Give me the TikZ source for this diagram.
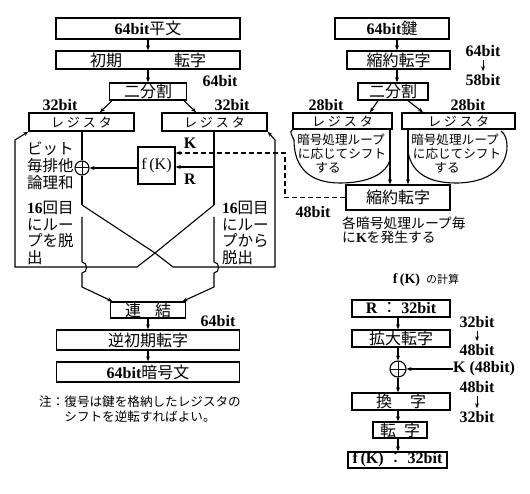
\documentclass[tikz,border=0pt]{standalone}
\usepackage{fontspec}
\setmainfont{Liberation Serif}
\newfontfamily\jp{Noto Sans CJK JP}
\usetikzlibrary{arrows.meta}
\newcommand\J[1]{{\jp\mdseries #1}}
\newcommand\regtext{{\jp\mdseries\fontsize{13}{14}\selectfont レ\hspace{3pt}ジ\hspace{3pt}ス\hspace{3pt}タ}}
\begin{document}
\begin{tikzpicture}[x=1pt,y=-1pt,
  box/.style={draw, line width=1.4pt, inner sep=0pt, font=\fontsize{16}{17}\selectfont\bfseries},
  lbl/.style={inner sep=0pt, font=\fontsize{16}{17}\selectfont\bfseries},
  ln/.style={line width=1.1pt},
  arr/.style={line width=1.1pt, -{Stealth[length=5pt,width=4pt]}},
  sarr/.style={line width=0.9pt, -{Stealth[length=5pt,width=4pt]}, shorten <=3pt, shorten >=3pt},
  xor/.style={circle, draw, line width=1.1pt, inner sep=0pt, fill=white,
    path picture={\draw[line width=1pt] (path picture bounding box.north) -- (path picture bounding box.south)
      (path picture bounding box.west) -- (path picture bounding box.east);}},
  side/.style={inner sep=0pt, align=left, anchor=north west, font=\fontsize{15.5}{16.7}\selectfont\bfseries},
  blob/.style={inner sep=0pt, font=\fontsize{12.6}{14}\selectfont}]
\useasboundingbox (0,0) rectangle (530,494);

% ---------------- left column ----------------
\node[box, minimum width=184pt, minimum height=21pt] (p1) at (148,28.5) {64bit\J{平文}};
\node[box, minimum width=184pt, minimum height=18pt] (p2) at (148,60) {\J{初期}\hspace{52pt}\J{転字}};
\node[box, minimum width=77pt, minimum height=17pt] (p3) at (148,91.5) {\J{二分割}};
\node[box, minimum width=105pt, minimum height=18pt] (regL) at (81.5,122) {\regtext};
\node[box, minimum width=105pt, minimum height=18pt] (regR) at (214.5,122) {\regtext};
\node[box, minimum size=37pt, font=\fontsize{16}{17}\selectfont] (fk) at (156.5,165.5) {f\,(K)};
\node[xor, minimum size=14pt] (xorL) at (82,168) {};
\node[box, minimum width=75pt, minimum height=16pt] (ren) at (148,310) {\J{連}\hspace{14pt}\J{結}};
\node[box, minimum width=183pt, minimum height=20pt] (inv) at (148,340) {\J{逆初期転字}};
\node[box, minimum width=183pt, minimum height=20pt] (ct) at (148,372) {64bit\J{暗号文}};

\draw[arr] (p1.south) -- (p2.north);
\draw[arr] (p2.south) -- (p3.north);
\draw[arr] ([xshift=-36pt]p3.south) -- ([xshift=18.5pt]regL.north);
\draw[arr] ([xshift=36pt]p3.south) -- ([xshift=-18.5pt]regR.north);
\node[lbl] (b64a) at (220,81) {64bit};
\node[lbl] (b32a) at (60,105) {32bit};
\node[lbl] (b32b) at (232,105) {32bit};

% Feistel round
\coordinate (la) at (82,205);
\coordinate (ra) at (214,205);
\coordinate (cx) at (155,253);
\draw[ln] (regL.south -| xorL) -- (xorL.north);
\draw[ln] (xorL.south) -- (la);
\draw[ln] (regR.south -| ra) -- (ra);
\coordinate (rsrc) at (214,167);
\draw[arr] (rsrc) -- (rsrc -| fk.east);
\draw[arr] (fk.west |- xorL) -- (xorL.east);
\node[lbl] (kl) at (190,143) {K};
\node[lbl] (rlab) at (190,179) {R};

\draw[arr] (la) -- (cx) -- (173,267) -- (275,267) -- (275,140) -- (regR.south east);
\draw[arr] (ra) -- (cx) -- (137,267) -- (15,267) -- (15,140) -- (regL.south west);

% exit after 16th round
\draw[arr] (82,217) -- (82,262) .. controls (88,262) and (88,273) .. (82,273) -- (82,287) -- ([xshift=2.5pt]ren.north west);
\draw[arr] (214,217) -- (214,262) .. controls (220,262) and (220,273) .. (214,273) -- (214,287) -- ([xshift=-3.5pt]ren.north east);

\node[side] (t1) at (27,142) {\J{ビット}\\\J{毎排他}\\\J{論理和}};
\node[side] (t2) at (27,201) {16\J{回目}\\\J{にルー}\\\J{プを脱}\\\J{出}};
\node[side] (t3) at (222,201) {16\J{回目}\\\J{にルー}\\\J{プから}\\\J{脱出}};

\draw[arr] (ren.south) -- (inv.north);
\draw[arr] (inv.south) -- (ct.north);
\node[lbl] (b64b) at (218,321) {64bit};
\node[inner sep=0pt, align=center, font=\fontsize{12.6}{15}\selectfont] (note) at (140,409.5)
  {\J{注：復号は鍵を格納したレジスタの}\\\J{シフトを逆転すればよい。}};

% ---------------- key schedule ----------------
\node[box, minimum width=114pt, minimum height=21pt] (k1) at (392,28.5) {64bit\J{鍵}};
\node[box, minimum width=103pt, minimum height=18pt] (k2) at (398.5,60) {\J{縮約転字}};
\node[box, minimum width=70pt, minimum height=17pt] (k3) at (393,91.5) {\J{二分割}};
\node[box, minimum width=99pt, minimum height=16pt] (kL) at (342.5,121) {\regtext};
\node[box, minimum width=113pt, minimum height=16pt] (kR) at (458.5,121) {\regtext};
\node[box, minimum width=104pt, minimum height=25pt] (k4) at (398,197.5) {\J{縮約転字}};
\coordinate (kx) at (397,0);
\draw[arr] (k1.south -| kx) -- (k2.north -| kx);
\draw[arr] (k2.south -| kx) -- (k3.north -| kx);
\draw[arr] ([xshift=-15pt]k3.south) -- ([xshift=27.5pt]kL.north);
\draw[arr] ([xshift=15pt]k3.south) -- ([xshift=-35.5pt]kR.north);
\node[lbl] (b64c) at (483,51) {64bit};
\node[lbl] (b58) at (483,80) {58bit};
\draw[sarr] (b64c.south) -- (b58.north);
\node[lbl] (b28a) at (326,105) {28bit};
\node[lbl] (b28b) at (468,105) {28bit};

\coordinate (v1) at (390,129);
\coordinate (v2) at (408,129);
\draw[arr] (v1) -- (v1 |- k4.north);
\draw[arr] (v2) -- (v2 |- k4.north);
% shift blobs
\draw[ln] (kL.south west) .. controls (289,132) and (292,135) .. (294,140)
  .. controls (294,168) and (310,183) .. (340,183)
  .. controls (368,183) and (386,174) .. (390,160);
\draw[ln] (408,152) .. controls (412,174) and (430,183) .. (456,183)
  .. controls (488,183) and (507,168) .. (507,146)
  .. controls (507,139) and (505,134) .. (501,131);
\node[blob] (bl1) at (341,140) {\J{暗号処理ループ}};
\node[blob] (bl2) at (342,154) {\J{に応じてシフト}};
\node[blob] (bl3) at (328,168) {\J{する}};
\node[blob] (br1) at (455,140) {\J{暗号処理ループ}};
\node[blob] (br2) at (457,154) {\J{に応じてシフト}};
\node[blob] (br3) at (447,168) {\J{する}};

\coordinate (kc) at (285,153);
\draw[arr, dash pattern=on 5pt off 3pt] (k4.west) -- (k4.west -| kc) -- (kc) -- (kc -| fk.east);
\node[lbl] (b48) at (313,212) {48bit};
\node[inner sep=0pt, align=left, anchor=north west, font=\fontsize{13.8}{13.5}\selectfont\bfseries] (gen) at (342,217)
  {\J{各暗号処理ループ毎}\\\J{に}K\J{を発生する}};

% ---------------- f(K) ----------------
\node[inner sep=0pt] (ttl) at (426,280) {\fontsize{14}{15}\selectfont\bfseries f\,(K)\hspace{6pt}\J{\fontsize{11}{12}\selectfont の計算}};
\node[box, minimum width=98pt, minimum height=17pt] (f1) at (401,308.5) {R\hspace{4pt}\J{：}\hspace{4pt}32bit};
\node[box, minimum width=98pt, minimum height=17pt] (f2) at (401,338.5) {\J{拡大転字}};
\node[xor, minimum size=16pt] (fx) at (398,369) {};
\node[box, minimum width=98pt, minimum height=17pt] (f3) at (401,401.5) {\J{換}\hspace{18pt}\J{字}};
\node[box, minimum width=54pt, minimum height=16pt] (f4) at (400,430) {\J{転}\hspace{8pt}\J{字}};
\node[box, minimum width=99pt, minimum height=16pt] (f5) at (397.5,460) {f\,(K)\hspace{4pt}\J{：}\hspace{4pt}32bit};
\draw[arr] (f1.south -| fx) -- (f2.north -| fx);
\draw[arr] (f2.south -| fx) -- (fx.north);
\draw[arr] (fx.south) -- (f3.north -| fx);
\draw[arr] (f3.south -| fx) -- (f4.north -| fx);
\draw[arr] (f4.south -| fx) -- (f5.north -| fx);
\node[lbl, anchor=west] (kt) at (453,369) {K (48bit)};
\draw[arr] (kt.west) -- (fx.east);
\node[lbl] (c32a) at (477,322) {32bit};
\node[lbl] (c48a) at (477,350) {48bit};
\draw[sarr] (c32a.south) -- (c48a.north);
\node[lbl] (c48b) at (477,387) {48bit};
\node[lbl] (c32b) at (477,417) {32bit};
\draw[sarr] (c48b.south) -- (c32b.north);
\end{tikzpicture}
\end{document}
